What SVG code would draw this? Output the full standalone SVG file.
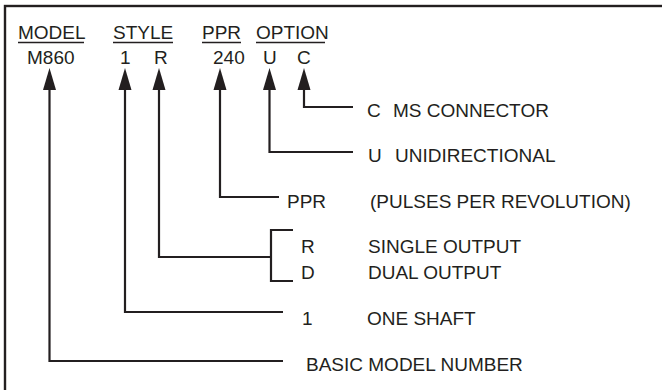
<svg xmlns="http://www.w3.org/2000/svg" width="662" height="390" viewBox="0 0 662 390">
<style>
text{font-family:"Liberation Sans",Arial,sans-serif;font-size:19px;fill:#231f20}
.ln{stroke:#231f20;stroke-width:2.2;fill:none}
.ul{stroke:#231f20;stroke-width:1.3}
.ah{fill:#231f20}
</style>
<defs>
<polygon id="head" points="0,0 -6.5,22 6.5,22"/>
</defs>
<rect x="5" y="6" width="700" height="420" fill="#fff" stroke="#231f20" stroke-width="2.4"/>
<g id="header">
<text x="18" y="39">MODEL</text>
<text x="113" y="39">STYLE</text>
<text x="202" y="39">PPR</text>
<text x="256" y="39">OPTION</text>
<line class="ul" x1="18" y1="42.5" x2="84" y2="42.5"/>
<line class="ul" x1="113" y1="42.5" x2="173" y2="42.5"/>
<line class="ul" x1="202" y1="42.5" x2="241" y2="42.5"/>
<line class="ul" x1="256" y1="42.5" x2="325" y2="42.5"/>
</g>
<g id="code">
<text x="27" y="64">M860</text>
<text x="120" y="64">1</text>
<text x="154" y="64">R</text>
<text x="213" y="64">240</text>
<text x="263" y="64">U</text>
<text x="297" y="64">C</text>
</g>
<g id="connectors">
<use href="#head" class="ah" x="49.5" y="68"/>
<use href="#head" class="ah" x="125" y="68"/>
<use href="#head" class="ah" x="159" y="68"/>
<use href="#head" class="ah" x="220" y="68"/>
<use href="#head" class="ah" x="269.5" y="68"/>
<use href="#head" class="ah" x="304" y="68"/>
<polyline class="ln" points="304,88 304,107 353,107"/>
<polyline class="ln" points="269.5,88 269.5,152 353,152"/>
<polyline class="ln" points="220,88 220,197 279,197"/>
<polyline class="ln" points="159,88 159,257 271,257"/>
<polyline class="ln" points="293,230 271,230 271,281 293,281"/>
<polyline class="ln" points="125,88 125,312 283,312"/>
<polyline class="ln" points="49.5,88 49.5,361 283,361"/>
</g>
<g id="opt-c"><text x="367" y="117">C</text><text x="393" y="117">MS CONNECTOR</text></g>
<g id="opt-u"><text x="368" y="162">U</text><text x="395" y="162">UNIDIRECTIONAL</text></g>
<g id="ppr"><text x="287" y="208">PPR</text><text x="370" y="208">(PULSES PER REVOLUTION)</text></g>
<g id="style-r"><text x="301" y="253">R</text><text x="368" y="253">SINGLE OUTPUT</text></g>
<g id="style-d"><text x="301" y="279">D</text><text x="368" y="279">DUAL OUTPUT</text></g>
<g id="style-1"><text x="302" y="325">1</text><text x="367" y="325">ONE SHAFT</text></g>
<g id="model"><text x="306" y="371">BASIC MODEL NUMBER</text></g>
</svg>
